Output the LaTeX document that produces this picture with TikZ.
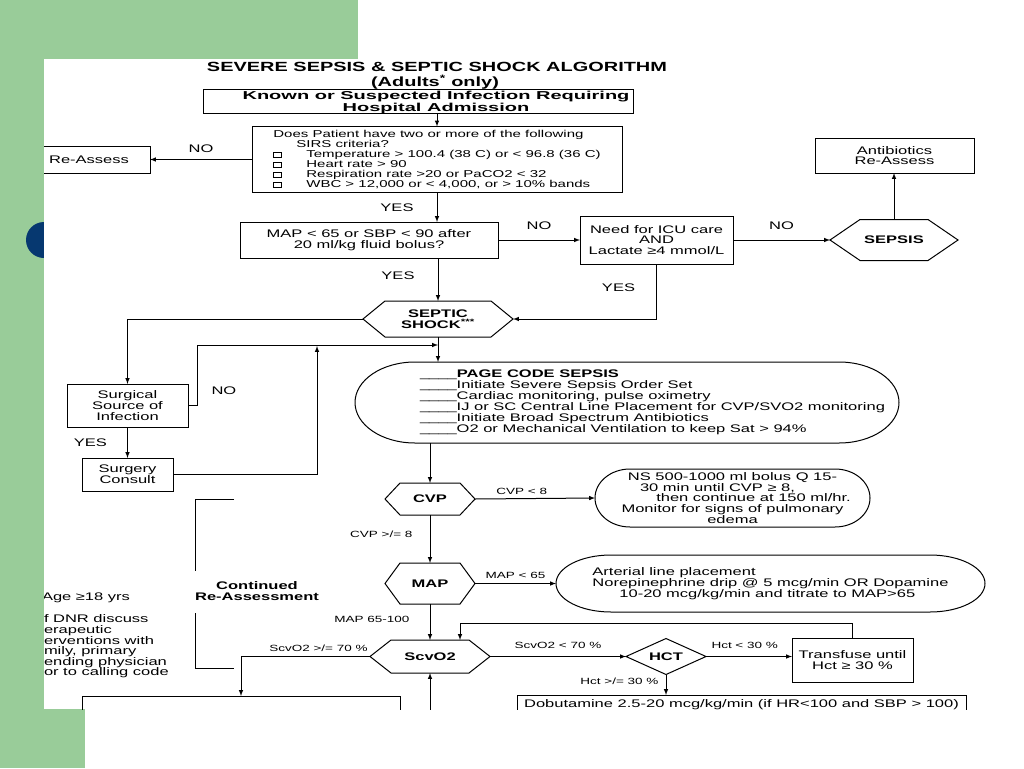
\documentclass[tikz,border=0pt]{standalone}
\usepackage{fontspec}
\setmainfont{Liberation Sans}[FakeStretch=1.5]
\newfontfamily\widefont{Liberation Sans}[FakeStretch=1.74]
\usetikzlibrary{
    calc,
    arrows,
    shapes.geometric
}
\definecolor{slidegreen}{RGB}{153,204,153}
\definecolor{slidenavy}{RGB}{6,56,112}
\newcommand{\sz}[2]{\fontsize{#1}{#2}\selectfont}
\newcommand{\cbox}{\makebox[33pt][l]{\setlength{\fboxsep}{0pt}\setlength{\fboxrule}{0.8pt}\fbox{\rule{0pt}{5pt}\rule{7pt}{0pt}}}}
\newcommand{\hexline}[2]{% hexagon round a named node
    \draw (#1.west) -- ([xshift=#2]#1.north west) -- ([xshift=-#2]#1.north east)
        -- (#1.east) -- ([xshift=-#2]#1.south east) -- ([xshift=#2]#1.south west) -- cycle;}
\newcommand{\ovalline}[3]{% oval round a named node
    \draw ([xshift=#2]#1.north west) -- ([xshift=-#2]#1.north east)
        arc[start angle=90, end angle=-90, x radius=#2, y radius=#3]
        -- ([xshift=#2]#1.south west)
        arc[start angle=270, end angle=90, x radius=#2, y radius=#3] -- cycle;}
\tikzset{
    box/.style={draw, align=center, inner sep=0pt, outer sep=0pt, font=\sz{11}{10.8}},
    plain/.style={align=center, inner sep=0pt, outer sep=0pt, font=\sz{11}{10.8}},
    hexlabel/.style={plain, font=\bfseries\sz{11}{11}},
    edgelabel/.style={inner sep=2pt, font=\sz{11}{11}},
    smalllabel/.style={inner sep=2pt, font=\sz{9}{9}}
}

\begin{document}
\begin{tikzpicture}[x=1pt, y=-1pt, >=latex, line width=1pt]
    \useasboundingbox (0,0) rectangle (1024,768);
    % slide background
    \fill[slidegreen] (0,0) rectangle (358,59);
    \fill[slidegreen] (0,59) rectangle (44,709);
    \fill[slidegreen] (0,709) rectangle (85,768);
    \fill[slidenavy] (44,240) circle[radius=18pt];
    \fill[white] (44,59) rectangle (1024,709);
    \begin{scope}
        \clip (44,59) rectangle (1024,709);
        \draw (437,67) node[plain, font=\bfseries\sz{13.3}{13}](title){SEVERE SEPSIS \& SEPTIC SHOCK ALGORITHM};
        \draw (435,82) node[plain, font=\bfseries\sz{13.3}{13}](adults){(Adults\textsuperscript{*} only)};
        \draw (418,101) node[box, minimum width=430, minimum height=24,
            label={[plain, font=\widefont\bfseries\sz{11.5}{12}, xshift=18pt, yshift=-1.5pt]center:{Known or Suspected Infection Requiring\\Hospital Admission}}](known){};
        \draw (437,159.5) node[box, minimum width=370, minimum height=66, align=left, font=\sz{10}{10}](sirs){Does Patient have two or more of the following\\
            \hspace*{23pt}SIRS criteria?\\
            \cbox Temperature > 100.4 (38 C) or < 96.8 (36 C)\\
            \cbox Heart rate > 90\\
            \cbox Respiration rate >20 or PaCO2 < 32\\
            \cbox WBC > 12,000 or < 4,000, or > 10\% bands};
        \draw (89,159.5) node[box, minimum width=122, minimum height=27](reassess){Re-Assess};
        \draw (369,240) node[box, minimum width=258, minimum height=36](mapq){MAP < 65 or SBP < 90 after\\20 ml/kg fluid bolus?};
        \draw (656.5,240) node[box, minimum width=153, minimum height=48](icu){Need for ICU care\\AND\\Lactate ≥4 mmol/L};
        \draw (894.5,155.5) node[box, minimum width=159, minimum height=35](abx){Antibiotics\\Re-Assess};
        \draw (894,240) node[hexlabel, minimum width=128, minimum height=41](sepsis){SEPSIS};
        \hexline{sepsis}{30pt}
        \draw (438,319) node[hexlabel, minimum width=150, minimum height=36](shock){SEPTIC\\SHOCK\textsuperscript{***}};
        \hexline{shock}{22pt}
        \draw (127.5,405.5) node[box, minimum width=121, minimum height=43](surg){Surgical\\Source of\\Infection};
        \draw (127.5,474.5) node[box, minimum width=91, minimum height=33](consult){Surgery\\Consult};
        \draw (627,402.5) node[plain, minimum width=544, minimum height=81,
            label={[plain, align=left, font=\sz{11}{11}, xshift=25.5pt]center:{\_\_\_\_\textbf{PAGE CODE SEPSIS}\\
            \_\_\_\_Initiate Severe Sepsis Order Set\\
            \_\_\_\_Cardiac monitoring, pulse oximetry\\
            \_\_\_\_IJ or SC Central Line Placement for CVP/SVO2 monitoring\\
            \_\_\_\_Initiate Broad Spectrum Antibiotics\\
            \_\_\_\_O2 or Mechanical Ventilation to keep Sat > 94\%}}](page){};
        \ovalline{page}{60pt}{40.5pt}
        \draw (430,499) node[hexlabel, minimum width=90, minimum height=32](cvp){CVP};
        \hexline{cvp}{15pt}
        \draw (732.5,498) node[plain, minimum width=275, minimum height=58, font=\sz{11}{10.75}](ns){NS 500-1000 ml bolus Q 15-\\
            30 min until CVP ≥ 8,\hspace*{30pt}\mbox{}\\
            \hspace*{42pt}then continue at 150 ml/hr.\\
            Monitor for signs of pulmonary\\
            edema};
        \ovalline{ns}{35pt}{29pt}
        \draw (430,583.5) node[hexlabel, minimum width=90, minimum height=41](maphex){MAP};
        \hexline{maphex}{15pt}
        \draw (770.5,583.5) node[plain, align=left, minimum width=429, minimum height=57, font=\sz{11}{10.7}](art){Arterial line placement\\
            Norepinephrine drip @ 5 mcg/min OR Dopamine\\
            \hspace*{27pt}10-20 mcg/kg/min and titrate to MAP>65};
        \ovalline{art}{55pt}{28.5pt}
        \draw (430,656.5) node[hexlabel, minimum width=120, minimum height=33](scv){ScvO2};
        \hexline{scv}{21pt}
        \draw (666,656.5) node[diamond, draw, aspect=2.2, inner sep=0pt, outer sep=0pt, minimum width=80, minimum height=36, font=\bfseries\sz{11}{11}](hct){HCT};
        \draw (852.5,660) node[box, minimum width=121, minimum height=44](transf){Transfuse until\\Hct ≥ 30 \%};
        \draw (741.5,705) node[box, minimum width=449, minimum height=20](dobu){Dobutamine 2.5-20 mcg/kg/min (if HR<100 and SBP > 100)};
        \draw (241,711) node[box, minimum width=318, minimum height=30](early){};
        \draw (257,591.5) node[plain, font=\bfseries\sz{11}{11}](reassessing){Continued\\Re-Assessment};
        \draw (234,499) -- (195,499) -- (195,571);
        \draw (195,613) -- (195,668) -- (234,668);
        \draw (42,598) node[plain, anchor=west](age){Age ≥18 yrs};
        \draw (44,646.5) node[plain, anchor=west, align=left, font=\sz{11}{10.6}](dnr){f DNR discuss\\erapeutic\\erventions with\\mily, primary\\ending physician\\or to calling code};
        \coordinate (join) at (438,345);
        \coordinate (consultin) at (317,346);
        \coordinate (scvin) at (430,712);
        \draw[->] (known.south -| sirs.north) to (sirs.north);
        \draw[->] (sirs.west) to node[above=4.5pt, midway, edgelabel]{NO} (reassess.east);
        \draw[->] (sirs.south) to node[left=21pt, midway, edgelabel]{YES} (sirs.south |- mapq.north);
        \draw[->] (mapq.east) to node[above=8pt, midway, edgelabel]{NO} (icu.west);
        \draw[->] (icu.east) to node[above=8pt, midway, edgelabel]{NO} (sepsis.west);
        \draw[->] (sepsis.north) to (sepsis.north |- abx.south);
        \draw[->] (mapq.south -| shock.north) to node[pos=0.42, left=21pt, edgelabel]{YES} (shock.north);
        \draw[->] (icu.south) |- node[pos=0.22, left=19pt, edgelabel]{YES} (shock.east);
        \draw[->] (shock.west) -| (surg.north);
        \draw[->] (shock.south) to (page.north -| shock.south);
        \draw[->] (surg.east) -- ++(9,0) |- node[pos=0.12, right=12pt, edgelabel]{NO} (join);
        \draw[->] (surg.south) to node[midway, left=18pt, edgelabel]{YES} (consult.north);
        \draw[->] (consult.east) -| (consultin);
        \draw[->] (page.south -| cvp.north) to (cvp.north);
        \draw[->] (cvp.east) to node[pos=0.39, above=2pt, smalllabel]{CVP < 8} (ns.west);
        \draw[->] (cvp.south) to node[pos=0.4, left=15pt, smalllabel]{CVP >/= 8} (maphex.north);
        \draw[->] (maphex.east) to node[midway, above=2pt, smalllabel]{MAP < 65} (art.west);
        \draw[->] (maphex.south) to node[pos=0.42, left=18pt, smalllabel]{MAP 65-100} (scv.north);
        \draw[->] (scv.west) -| node[pos=0.2, above=2pt, smalllabel]{ScvO2 >/= 70 \%} (early.north);
        \draw[->] (scv.east) to node[midway, above=5pt, smalllabel]{ScvO2 < 70 \%} (hct.west);
        \draw[->] (hct.east) to node[pos=0.45, above=5pt, smalllabel]{Hct < 30 \%} (hct.east -| transf.west);
        \draw[->] (hct.south) to node[pos=0.35, left=5pt, smalllabel]{Hct >/= 30 \%} (hct.south |- dobu.north);
        \draw[->] (transf.north) -- ++(0,-15) -| ([xshift=30pt]scv.north);
        \draw[->] (scvin) to (scv.south);
    \end{scope}
\end{tikzpicture}
\end{document}
